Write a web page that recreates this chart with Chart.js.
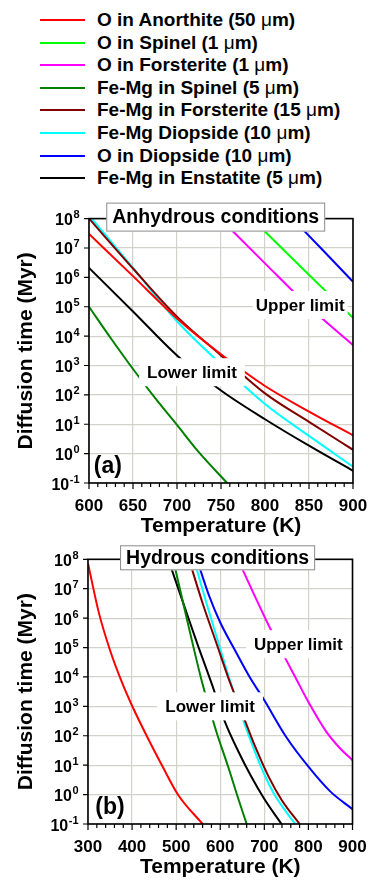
<!DOCTYPE html>
<html>
<head>
<meta charset="utf-8">
<script src="https://cdn.jsdelivr.net/npm/chart.js@4.4.1/dist/chart.umd.min.js"></script>
<style>
  html, body { margin: 0; padding: 0; background: #fff; }
  #page { position: relative; width: 368px; height: 881px; overflow: hidden;
          font-family: "Liberation Sans", Arial, sans-serif; font-weight: bold; }
  .item { position: absolute; left: 40px; height: 22px; white-space: nowrap; font-size: 19px; line-height: 22px; }
  .swatch { position: absolute; left: 0; top: 10px; width: 45px; height: 2px; }
  .txt { position: absolute; left: 57px; top: 0; }
  .mu { font-weight: normal; }
  canvas { position: absolute; left: 0; }
</style>
</head>
<body>
<div id="page">
  <div id="legend"></div>
  <canvas id="anhydrous" width="368" height="350" style="top:190px"></canvas>
  <canvas id="hydrous" width="368" height="341" style="top:540px"></canvas>
</div>
<script>
// series, in legend order
const seriesNames = [
  'O in Anorthite (50 μm)',
  'O in Spinel (1 μm)',
  'O in Forsterite (1 μm)',
  'Fe-Mg in Spinel (5 μm)',
  'Fe-Mg in Forsterite (15 μm)',
  'Fe-Mg Diopside (10 μm)',
  'O in Diopside (10 μm)',
  'Fe-Mg in Enstatite (5 μm)'
];
const seriesColors = ['#ff0000', '#00ff00', '#ff00ff', '#008000', '#800000', '#00ffff', '#0000ff', '#000000'];

// (a) anhydrous: temperature (K) and diffusion time (Myr)
const anhydrousTemps = [
  [600, 650, 700, 750, 800, 850, 900],
  [785, 840, 900],
  [749, 800, 850, 900],
  [600, 625, 650, 675, 700, 725, 757],
  [600, 650, 700, 750, 800, 850, 900],
  [603, 650, 700, 750, 800, 850, 900],
  [831, 865, 900],
  [600, 650, 700, 750, 800, 850, 900]
];
const anhydrousTimes = [
  [3.0e7, 1.1e6, 4.0e4, 2.4e3, 200, 27, 4.2],
  [1.0e8, 2.4e6, 4.2e4],
  [1.0e8, 3.0e6, 1.0e5, 5.0e3],
  [1.0e5, 8.3e3, 7.6e2, 79, 9.5, 1.1, 0.1],
  [1.0e8, 2.0e6, 4.6e4, 2.2e3, 112, 12, 1.35],
  [1.0e8, 2.1e6, 3.2e4, 1.1e3, 49, 4.0, 0.36],
  [1.0e8, 8.9e6, 7.1e5],
  [2.1e6, 6.9e4, 2.2e3, 141, 14.8, 1.86, 0.26]
];

// (b) hydrous
const hydrousTemps = [
  [300, 325, 350, 375, 400, 435, 470, 505, 560],
  [],
  [640, 680, 710, 740, 770, 800, 840, 870, 900],
  [493, 530, 560, 590, 620, 640, 660],
  [529, 560, 590, 620, 650, 680, 710, 740, 780],
  [540, 570, 600, 630, 660, 690, 720, 745, 770],
  [547, 575, 600, 630, 665, 700, 750, 800, 850, 900],
  [482, 520, 550, 580, 610, 640, 670, 700, 739]
];
const hydrousTimes = [
  [7.2e7, 1.45e6, 8.1e4, 7.8e3, 1.05e3, 87, 8.5, 0.95, 0.1],
  [],
  [1.0e8, 5.0e6, 5.6e5, 7.1e4, 1.0e4, 1.4e3, 141, 40, 14.8],
  [1.0e8, 4.0e5, 5.6e3, 158, 7.1, 0.8, 0.1],
  [1.0e8, 3.2e6, 1.6e5, 7.9e3, 562, 40, 4.0, 0.63, 0.1],
  [1.0e8, 2.8e6, 8.9e4, 3.2e3, 158, 10.7, 1.2, 0.32, 0.1],
  [1.0e8, 5.6e6, 7.1e5, 1.0e5, 1.1e4, 1.6e3, 89, 8.9, 1.26, 0.32],
  [1.0e8, 2.2e6, 1.1e5, 6.3e3, 316, 31.6, 4.2, 0.71, 0.1]
];

const timeTicks = [0.1, 1, 10, 100, 1e3, 1e4, 1e5, 1e6, 1e7, 1e8];
const timeTickExponents = ['-1', '0', '1', '2', '3', '4', '5', '6', '7', '8'];

const fontFamily = '"Liberation Sans", Arial, sans-serif';
const gridColor = '#d2d2ca';

// legend
const legendBox = document.getElementById('legend');
seriesNames.forEach((name, i) => {
  const item = document.createElement('div');
  item.className = 'item';
  item.style.top = (9 + i * 22.6) + 'px';
  const sw = document.createElement('span');
  sw.className = 'swatch';
  sw.style.background = seriesColors[i];
  const txt = document.createElement('span');
  txt.className = 'txt';
  const parts = name.split('μ');
  txt.appendChild(document.createTextNode(parts[0]));
  const mu = document.createElement('span');
  mu.className = 'mu';
  mu.textContent = 'μ';
  txt.appendChild(mu);
  txt.appendChild(document.createTextNode(parts[1]));
  item.appendChild(sw);
  item.appendChild(txt);
  legendBox.appendChild(item);
});

const panelDecor = {
  id: 'panelDecor',
  afterDatasetsDraw(chart, args, opts) {
    const { ctx, chartArea: a, scales: { x, y } } = chart;
    ctx.save();
    ctx.strokeStyle = '#000';
    ctx.lineWidth = 1.6;
    ctx.strokeRect(a.left, a.top, a.right - a.left, a.bottom - a.top);
    ctx.lineWidth = 1.2;
    ctx.beginPath();
    for (let v = x.min; v <= x.max + 0.01; v += opts.minorStep) {
      const px = x.getPixelForValue(v);
      const major = Math.abs(((v - x.min) / opts.majorStep) - Math.round((v - x.min) / opts.majorStep)) < 0.001;
      ctx.moveTo(px, a.bottom);
      ctx.lineTo(px, a.bottom + (major ? 6 : 4));
    }
    y.ticks.forEach(t => {
      const py = y.getPixelForValue(t.value);
      ctx.moveTo(a.left, py);
      ctx.lineTo(a.left - 5, py);
    });
    ctx.stroke();

    // y tick labels: 10 with a raised exponent
    ctx.fillStyle = '#000';
    ctx.textAlign = 'left';
    ctx.textBaseline = 'alphabetic';
    y.ticks.forEach((t, i) => {
      const py = y.getPixelForValue(t.value);
      const exp = timeTickExponents[i];
      ctx.font = 'bold 11px ' + fontFamily;
      const ew = ctx.measureText(exp).width;
      ctx.font = 'bold 16px ' + fontFamily;
      const bw = ctx.measureText('10').width;
      const left = a.left - 10 - ew - bw;
      ctx.fillText('10', left, py + 6.5);
      ctx.font = 'bold 11px ' + fontFamily;
      ctx.fillText(exp, left + bw + 0.5, py - 0.5);
    });
    ctx.restore();
  },
  afterDraw(chart, args, opts) {
    const { ctx, chartArea: a, scales: { x, y } } = chart;
    ctx.save();
    ctx.textAlign = 'center';
    ctx.textBaseline = 'middle';

    ctx.font = 'bold 17px ' + fontFamily;
    opts.notes.forEach(n => {
      const w = ctx.measureText(n.text).width + 2 * n.pad;
      const cx = x.getPixelForValue(n.x), cy = y.getPixelForValue(n.y);
      ctx.fillStyle = '#fff';
      ctx.fillRect(cx - w / 2, cy - 14, w, 28);
      ctx.fillStyle = '#000';
      ctx.fillText(n.text, cx, cy + 1);
    });

    const t = opts.title;
    ctx.font = 'bold 19.5px ' + fontFamily;
    const tw = ctx.measureText(t.text).width + 12;
    const tx = x.getPixelForValue(t.x), ty = a.top - 1.5;
    ctx.fillStyle = '#fff';
    ctx.fillRect(tx - tw / 2, ty - t.h / 2, tw, t.h);
    ctx.strokeStyle = '#8a8a8a';
    ctx.lineWidth = 1;
    ctx.strokeRect(tx - tw / 2 + 0.5, ty - t.h / 2 + 0.5, tw - 1, t.h - 1);
    ctx.fillStyle = '#000';
    ctx.fillText(t.text, tx, ty + 1);

    ctx.font = 'bold 23px ' + fontFamily;
    ctx.fillText(opts.tag.text, x.getPixelForValue(opts.tag.x), y.getPixelForValue(opts.tag.y));
    ctx.restore();
  }
};

function buildPanel(id, temps, times, xMin, xMax, step, minorStep, pad, yWidth, xHeight, decor) {
  const datasets = seriesNames.map((name, i) => ({
    label: name,
    data: temps[i].map((T, k) => ({ x: T, y: times[i][k] })),
    borderColor: seriesColors[i],
    borderWidth: 2,
    pointRadius: 0,
    cubicInterpolationMode: 'monotone',
    fill: false
  }));
  return new Chart(document.getElementById(id), {
    type: 'line',
    data: { datasets },
    plugins: [panelDecor],
    options: {
      responsive: false,
      animation: false,
      devicePixelRatio: 1,
      events: [],
      layout: { padding: pad },
      plugins: {
        legend: { display: false },
        tooltip: { enabled: false },
        panelDecor: Object.assign({ minorStep, majorStep: step }, decor)
      },
      scales: {
        x: {
          type: 'linear', min: xMin, max: xMax,
          afterFit: s => { s.height = xHeight; s.paddingLeft = 0; s.paddingRight = 0; },
          border: { display: false },
          grid: { color: gridColor, lineWidth: 1.2, drawTicks: false },
          ticks: { stepSize: step, padding: 13, color: '#000', font: { family: fontFamily, size: 17, weight: 'bold' } },
          title: { display: true, text: 'Temperature (K)', color: '#000', padding: { top: 0, bottom: 1 },
                   font: { family: fontFamily, size: 21, weight: 'bold' } }
        },
        y: {
          type: 'logarithmic', min: 0.1, max: 1e8,
          afterFit: s => { s.width = yWidth; s.paddingTop = 0; s.paddingBottom = 0; },
          afterBuildTicks: s => { s.ticks = timeTicks.map(v => ({ value: v })); },
          border: { display: false },
          grid: { color: gridColor, lineWidth: 1.2, drawTicks: false },
          ticks: { display: false },
          title: { display: true, text: 'Diffusion time (Myr)', color: '#000', padding: { top: 14, bottom: 0 },
                   font: { family: fontFamily, size: 21, weight: 'bold' } }
        }
      }
    }
  });
}

buildPanel('anhydrous', anhydrousTemps, anhydrousTimes, 600, 900, 50, 10,
  { left: 0, top: 28.6, right: 15, bottom: 0 }, 89, 57, {
    title: { text: 'Anhydrous conditions', x: 744, h: 29 },
    notes: [{ text: 'Upper limit', x: 840, y: 1.15e5, pad: 3 }, { text: 'Lower limit', x: 717, y: 590, pad: 8 }],
    tag: { text: '(a)', x: 621.5, y: 0.35 }
  });

buildPanel('hydrous', hydrousTemps, hydrousTimes, 300, 900, 100, 20,
  { left: 0, top: 19.3, right: 15.5, bottom: 0 }, 88, 57, {
    title: { text: 'Hydrous conditions', x: 594, h: 25 },
    notes: [{ text: 'Upper limit', x: 777, y: 1.3e5, pad: 8 }, { text: 'Lower limit', x: 577, y: 1.0e3, pad: 8 }],
    tag: { text: '(b)', x: 350, y: 0.35 }
  });
</script>
</body>
</html>
